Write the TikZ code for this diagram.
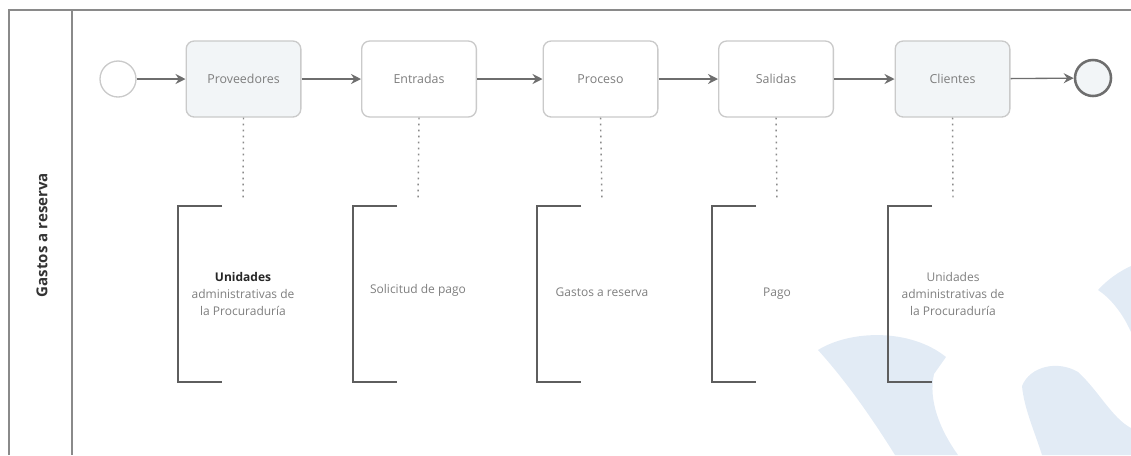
\documentclass[tikz,border=0pt]{standalone}
\usepackage{fontspec}
\setmainfont{Open Sans}
\usetikzlibrary{arrows.meta}

\definecolor{poolline}{HTML}{8A8A8A}
\definecolor{taskline}{HTML}{CACACA}
\definecolor{taskfill}{HTML}{F2F5F7}
\definecolor{labeltext}{HTML}{7E7E7E}
\definecolor{flowline}{HTML}{6E6E6E}
\definecolor{bracketline}{HTML}{5E5E5E}
\definecolor{logoblue}{HTML}{E2EBF5}

\tikzset{
  task/.style={draw=taskline, line width=1pt, rounded corners=6pt,
    minimum width=86pt, minimum height=57pt, inner sep=0pt,
    font=\fontsize{9.3}{11}\selectfont, text=labeltext},
  flow/.style={draw=flowline, line width=1pt,
    -{Stealth[length=7.5pt, width=7.5pt, inset=2.5pt]}},
  assoc/.style={draw=poolline, line width=1.1pt, dash pattern=on 1.2pt off 3.3pt},
  note/.style={minimum width=97pt, minimum height=132pt, inner sep=0pt,
    align=center, font=\fontsize{9}{12.5}\selectfont, text=labeltext},
  bracket/.style={draw=bracketline, line width=1pt},
  pool/.style={draw=poolline, line width=1.1pt},
}

\begin{document}
\begin{tikzpicture}[x=0.75pt, y=-0.75pt]
\useasboundingbox (0,0) rectangle (1131,455);

% faint logo shapes in the lower right corner
\fill[logoblue] (818,350) .. controls (850,330) and (910,328) .. (946,357)
  -- (934,374) .. controls (928,400) and (940,430) .. (958,455)
  -- (895,455) .. controls (870,415) and (845,380) .. cycle;
\fill[logoblue] (1022,386) .. controls (1030,366) and (1058,360) .. (1078,372)
  .. controls (1098,390) and (1112,418) .. (1131,428) -- (1131,455)
  -- (1042,455) .. controls (1034,430) and (1024,408) .. cycle;
\fill[logoblue] (1098,290) .. controls (1108,279) and (1120,271) .. (1131,266)
  -- (1131,332) .. controls (1122,312) and (1110,298) .. cycle;

% pool and lane header
\draw[pool] (9,455) -- (9,10) -- (1131,10);
\draw[pool] (72,10) -- (72,455);
\node[rotate=90, font=\fontsize{11.3}{13}\selectfont\bfseries, text=black!80]
  (lane) at (42,235) {Gastos a reserva};

% events and tasks
\node[circle, draw=taskline, line width=1pt, minimum size=27pt, inner sep=0pt]
  (start) at (118,79) {};
\node[task, fill=taskfill] (prov) at (243.5,79) {Proveedores};
\node[task, fill=white] (entr) at (419,79) {Entradas};
\node[task, fill=white] (proc) at (600.5,79) {Proceso};
\node[task, fill=white] (sali) at (776,79) {Salidas};
\node[task, fill=taskfill] (clie) at (952.5,79) {Clientes};
\node[circle, draw=flowline, fill=taskfill, line width=1.9pt, minimum size=27pt,
  inner sep=0pt] (end) at (1093,78) {};

% sequence flows
\draw[flow] (start) -- (prov);
\draw[flow] (prov) -- (entr);
\draw[flow] (entr) -- (proc);
\draw[flow] (proc) -- (sali);
\draw[flow] (sali) -- (clie);
\draw[flow] (clie) -- (end);

% text annotations
\node[note] (n1) at (243,294)
  {{\bfseries\color{black!85}Unidades}\\administrativas de\\la Procuraduría};
\node[note] (n2) at (418,290) {Solicitud de pago};
\node[note] (n3) at (602,292) {Gastos a reserva};
\node[note] (n4) at (777,294) {Pago};
\node[note] (n5) at (953,294) {Unidades\\administrativas de\\la Procuraduría};

\foreach \n in {n1,n2,n3,n4,n5}{
  \draw[bracket] ([xshift=33pt]\n.north west |- 0,206) -- (\n.north west |- 0,206)
    -- (\n.south west |- 0,382) -- ([xshift=33pt]\n.south west |- 0,382);
}

% associations
\draw[assoc] (prov.south) -- ([yshift=4pt]n1.north);
\draw[assoc] (entr.south) -- ([yshift=4pt]n2.north |- 0,206);
\draw[assoc] (proc.south) -- ([yshift=4pt]n3.north |- 0,206);
\draw[assoc] (sali.south) -- ([yshift=4pt]n4.north);
\draw[assoc] (clie.south) -- ([yshift=4pt]n5.north);
\end{tikzpicture}
\end{document}
